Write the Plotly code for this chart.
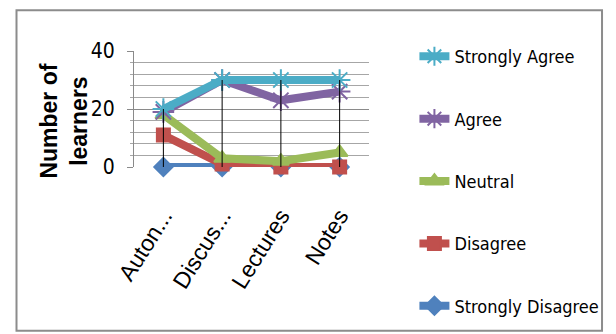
import numpy as np
import plotly.graph_objects as go

# Categories of learning activity
categories = ["Auton...", "Discus...", "Lectures", "Notes"]

# Number of learners per response (stacked in the chart, bottom to top)
strongly_disagree = [0, 0, 0, 0]
disagree = [11, 1, 0, 0]
neutral = [7, 2, 2, 5]
agree = [1, 27, 21, 21]
strongly_agree = [1, 0, 7, 4]

series_names = ["Strongly Disagree", "Disagree", "Neutral", "Agree", "Strongly Agree"]
series_values = [strongly_disagree, disagree, neutral, agree, strongly_agree]
series_colors = ["#4F81BD", "#C0504D", "#9BBB59", "#8064A2", "#4BACC6"]
series_symbols = ["diamond", "square", "triangle-up", "asterisk-open", "asterisk-open"]
series_msize = [14, 13, 14, 18, 18]

y_ticks = [0, 20, 40]

# Plot area in pixels (within the 616x334 figure)
W, H = 616, 334
PL, PR, PT, PB = 134, 372, 51, 167.5


def px_x(px):
    return (px - PL) / (PR - PL)


def px_y(py):
    return (PB - py) / (PB - PT)


COND = "DejaVu Sans Condensed, Liberation Sans Narrow, Liberation Sans, sans-serif"
SANS = "Liberation Sans, Arial, sans-serif"

fig = go.Figure()

cum = np.cumsum(np.array(series_values, dtype=float), axis=0)
n = len(series_names)

for i, name in enumerate(series_names):
    fig.add_trace(go.Scatter(
        x=categories,
        y=cum[i],
        name=name,
        mode="lines+markers",
        cliponaxis=False,
        line=dict(color=series_colors[i], width=8),
        marker=dict(symbol=series_symbols[i], size=series_msize[i],
                    color=series_colors[i],
                    line=dict(color=series_colors[i], width=2)),
        legendgroup=name,
        legendrank=n - i,
    ))

# High-low lines spanning the stacked series at each category
hl_x, hl_y = [], []
for j, c in enumerate(categories):
    hl_x += [c, c, None]
    hl_y += [cum[:, j].min(), cum[:, j].max(), None]
fig.add_trace(go.Scatter(x=hl_x, y=hl_y, mode="lines", cliponaxis=False,
                         line=dict(color="black", width=1),
                         showlegend=False, hoverinfo="skip"))

# Outer chart border
fig.add_shape(type="rect", xref="paper", yref="paper",
              x0=px_x(15), x1=px_x(608), y0=px_y(332), y1=px_y(10),
              line=dict(color="#8c8c8c", width=2), fillcolor="rgba(0,0,0,0)")

# Vertical axis title
fig.add_annotation(text="<b>Number of<br>learners</b>", xref="paper", yref="paper",
                   x=px_x(63), y=px_y(121), xanchor="center", yanchor="middle",
                   textangle=-90, showarrow=False,
                   font=dict(family=SANS, size=23, color="#000000"))

fig.update_layout(
    width=W, height=H,
    margin=dict(l=PL, r=W - PR, t=PT, b=H - PB),
    paper_bgcolor="white",
    plot_bgcolor="white",
    showlegend=True,
    legend=dict(
        x=px_x(418), y=px_y(38), xanchor="left", yanchor="top",
        traceorder="grouped",
        tracegroupgap=36,
        maxheight=400,
        font=dict(family=COND, size=18, color="#000000"),
        bgcolor="rgba(0,0,0,0)",
    ),
    xaxis=dict(
        type="category",
        range=[-0.5, len(categories) - 0.5],
        showgrid=False,
        showline=False,
        ticks="",
        tickangle=-58,
        ticklabelstandoff=30,
        tickfont=dict(family=SANS, size=23, color="#000000"),
    ),
    yaxis=dict(
        range=[0, 40],
        tickvals=y_ticks,
        showgrid=True,
        gridcolor="#8a8a8a",
        gridwidth=1,
        zeroline=False,
        showline=True,
        linecolor="#8a8a8a",
        ticks="outside",
        ticklen=6,
        tickcolor="#8a8a8a",
        ticklabelstandoff=8,
        minor=dict(dtick=4, showgrid=True, gridcolor="#a6a6a6", ticks="outside",
                   ticklen=3, tickcolor="#a6a6a6"),
        tickfont=dict(family=COND, size=21, color="#000000"),
    ),
)

fig.write_html("out.html")
